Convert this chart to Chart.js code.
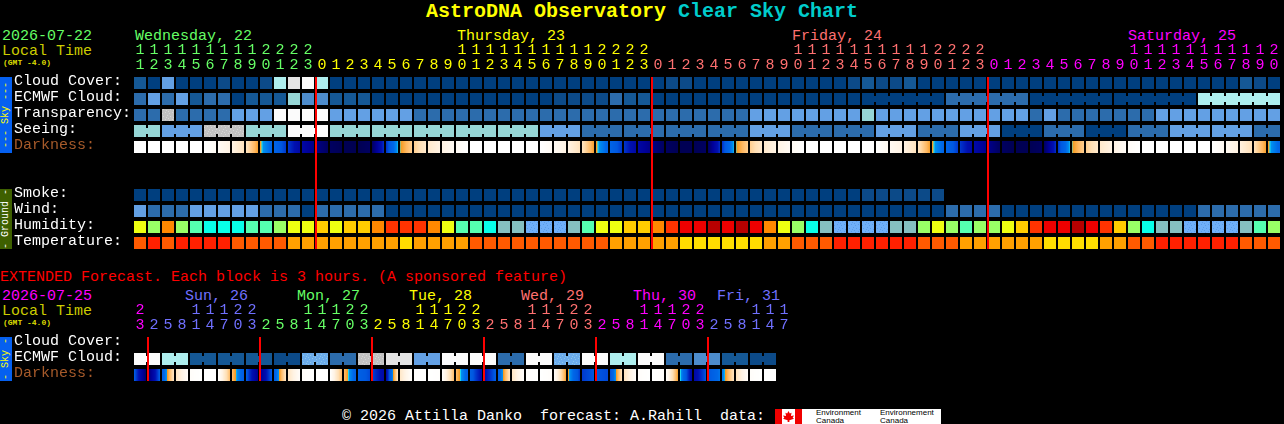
<!DOCTYPE html>
<html>
<head>
<meta charset="utf-8">
<title>AstroDNA Observatory Clear Sky Chart</title>
<script src="https://cdn.jsdelivr.net/npm/chart.js@4"></script>
<style>
html, body { margin: 0; background: #000; width: 1284px; height: 424px; overflow: hidden; }
canvas { position: absolute; left: 0; }
.t { position: absolute; white-space: pre; font: 15px/16px "Liberation Mono", monospace; color: #fff; }
.gmt { font: bold 8px/8px "Liberation Mono", monospace; color: #dddd00; }
.title { font: bold 20px/22px "Liberation Mono", monospace; }
.side { position: absolute; left: 0; width: 12px; display: flex; align-items: center; justify-content: center; }
.side span { writing-mode: vertical-rl; transform: rotate(180deg); font: 10px/12px "Liberation Mono", monospace; white-space: pre; }
.logo { position: absolute; background: #fff; }
.logo b { position: absolute; color: #000; font: 8px/8px "Liberation Sans", sans-serif; }
</style>
</head>
<body>
<div class="t title" style="left:426px;top:1px"><span style="color:#ffff00">AstroDNA Observatory</span> <span style="color:#00cccc">Clear Sky Chart</span></div>

<div class="t" style="left:2px;top:29px;color:#66ff66">2026-07-22</div>
<div class="t" style="left:2px;top:44px;color:#cccc00">Local Time</div>
<div class="t gmt" style="left:3px;top:59px">(GMT -4.0)</div>
<div class="t" style="left:135px;top:29px;color:#66ff66">Wednesday, 22</div>
<div class="t" style="left:457px;top:29px;color:#ffff00">Thursday, 23</div>
<div class="t" style="left:792px;top:29px;color:#ff7070">Friday, 24</div>
<div class="t" style="left:1128px;top:29px;color:#ff00ff">Saturday, 25</div>

<div class="side" style="top:77px;height:76px;background:#0560f0;color:#ffff00"><span>--- Sky ---</span></div>
<div class="side" style="top:189px;height:60px;background:#3e6000;color:#ffffff"><span>- Ground -</span></div>

<div class="t" style="left:0;top:270px;color:#ff0000">EXTENDED Forecast. Each block is 3 hours. (A sponsored feature)</div>
<div class="t" style="left:2px;top:289px;color:#ff00ff">2026-07-25</div>
<div class="t" style="left:2px;top:304px;color:#cccc00">Local Time</div>
<div class="t gmt" style="left:3px;top:319px">(GMT -4.0)</div>
<div class="t" style="left:185px;top:289px;color:#7070ff">Sun, 26</div>
<div class="t" style="left:297px;top:289px;color:#66ff66">Mon, 27</div>
<div class="t" style="left:409px;top:289px;color:#ffff00">Tue, 28</div>
<div class="t" style="left:521px;top:289px;color:#ff7070">Wed, 29</div>
<div class="t" style="left:633px;top:289px;color:#ff00ff">Thu, 30</div>
<div class="t" style="left:717px;top:289px;color:#7070ff">Fri, 31</div>
<div class="side" style="top:337px;height:44px;background:#0560f0;color:#ffff00"><span>- Sky -</span></div>

<div class="t" style="left:342px;top:409px">© 2026 Attilla Danko  forecast: A.Rahill  data:</div>
<div class="logo" style="left:775px;top:409px;width:166px;height:15px">
  <div style="position:absolute;left:0;top:0;width:7px;height:15px;background:#f00000"></div>
  <div style="position:absolute;left:20px;top:0;width:7px;height:15px;background:#f00000"></div>
  <div style="position:absolute;left:8px;top:2px;width:11px;height:11px;background:#f00000;clip-path:polygon(50% 0,62% 22%,78% 16%,72% 45%,100% 40%,88% 62%,100% 70%,58% 85%,58% 100%,42% 100%,42% 85%,0 70%,12% 62%,0 40%,28% 45%,22% 16%,38% 22%)"></div>
  <b style="left:41px;top:0">Environment</b><b style="left:41px;top:8px">Canada</b>
  <b style="left:105px;top:0">Environnement</b><b style="left:105px;top:8px">Canada</b>
</div>

<canvas id="hourlyChart" width="1284" height="209" style="top:42px"></canvas>
<canvas id="extendedChart" width="1284" height="81" style="top:302px"></canvas>

<script>
// hourly block, one entry per column
const hours = [11,12,13,14,15,16,17,18,19,20,21,22,23,
  0,1,2,3,4,5,6,7,8,9,10,11,12,13,14,15,16,17,18,19,20,21,22,23,
  0,1,2,3,4,5,6,7,8,9,10,11,12,13,14,15,16,17,18,19,20,21,22,23,
  0,1,2,3,4,5,6,7,8,9,10,11,12,13,14,15,16,17,18,19,20]
const dayStarts = [0,13,37,61]
const midnights = [13,37,61]

const cloudCover = [2,0,5,0,0,0,1,0,0,1, 8,10,11,8,0,0,0,0,0,0,
  0,0,0,0,0,0,0,0,0,0, 0,0,0,0,0,0,0,0,1,1,
  0,0,0,0,0,0,0,0,0,0, 0,1,2,1,1,2,0,0,0,0,
  0,0,0,0,0,0,0,0,0,0, 0,0,0,0,0,0,0,0,0,2, 1,0]
const ecmwfCloud = [3,5,3,5,2,3,3,0,2,2, 2,7,4,4,2,2,2,0,0,0,
  0,0,0,0,0,0,0,0,0,0, 1,1,1,1,3,2,2,0,0,0,
  0,0,0,0,0,0,0,0,0,0, 0,0,0,0,0,0,0,0,3,3,
  3,3,3,3,0,0,0,0,0,0, 0,0,0,0,0,0,8,8,8,8, 8,8]
const transparency = [3,3,9,3,3,3,3,5,5,5, 11,11,11,11,5,5,5,5,5,5,
  3,3,3,3,3,3,3,3,3,3, 3,3,3,3,3,3,3,3,3,3,
  3,3,3,3,5,5,5,5,5,5, 5,5,7,5,5,5,5,5,5,5,
  5,5,5,5,3,5,3,3,3,3, 3,3,3,5,5,5,5,5,5,5, 5,5]
const seeing = [7,7,5,5,5,9,9,9,7,7, 7,11,11,11,7,7,7,7,7,7,
  7,7,7,7,7,7,7,7,7,5, 5,5,3,3,3,3,3,3,3,3,
  3,3,3,3,5,5,5,3,3,3, 3,3,3,5,5,5,3,3,3,5,
  5,5,0,0,0,3,3,3,0,0, 0,3,3,3,5,5,5,5,5,5, 3,3]
const darkness = [0,0,0,0,0,0,.4,1,1.8,3.3, 4.4,5.4,6.5,7.3,8,8.5,8.6,8,5.5,3.47,
  2.4,1.5,1,.4,0,0,0,0,0,0, .4,1,1.8,3.3,4.4,5.4,6.5,7.3,8,8.5,
  8.5,8,5.5,3.47,2.4,1.5,1,.4,0,0, 0,0,0,0,.5,1,1.8,3.3,4.4,5.4,
  6.4,7.2,8,8.5,8.5,8,5.5,3.47,2.4,1.5, 1,.3,0,0,0,0,0,0,.5,1.1, 1.9,3.3,4.4]
const smoke = [0,0,0,0,0,0,0,0,0,0, 0,0,0,0,0,0,0,0,0,0,
  0,0,0,0,0,0,0,0,0,0, 0,0,0,0,0,0,0,0,0,0,
  0,0,0,0,0,0,0,0,0,0, 0,0,1,1,1,1,1,1]
const wind = [5,3,3,3,5,5,5,5,5,3, 3,3,0,3,3,3,3,3,0,0,
  0,0,0,0,0,0,0,0,0,0, 0,0,0,0,0,0,0,0,0,0,
  0,0,0,0,0,0,0,0,0,0, 0,0,0,0,0,0,0,0,3,3,
  3,3,0,0,0,0,0,0,0,0, 0,0,0,0,0,0,3,3,3,3, 3,3]
const humidity = [5,6,3,6,7,8,8,8,7,7, 6,5,5,4,5,4,4,3,2,2,
  2,3,5,7,7,8,9,9,10,10, 10,9,7,5,5,4,4,3,2,1,
  1,0,1,0,1,3,5,6,8,9, 10,10,10,10,9,9,6,5,6,7,
  6,6,5,4,2,1,1,0,1,2, 4,6,8,9,9,10,10,10,10,9, 7,6]
const temperature = [1,0,1,0,0,0,0,1,1,1, 1,2,2,2,2,2,2,2,2,3,
  2,2,2,2,1,1,1,1,1,1, 1,1,1,1,2,2,2,2,2,3,
  3,3,3,3,3,2,2,1,1,1, 0,0,0,0,0,0,1,1,1,2,
  2,2,2,2,2,3,3,3,3,2, 2,1,1,0,0,0,0,0,0,1, 1,1]

// columns where a new 3 hour block starts, cells in between are joined
const seeingBlocks = [0,2,5,8,11,14,17,20,23,26,29,32,35,38,41,44,47,50,53,56,59,62,65,68,71,74,77,80]
const ecmwfBlocks = [52,58,64,70,76]

// extended block, each column is 3 hours
const extHours = [23, 2,5,8,11,14,17,20,23, 2,5,8,11,14,17,20,23, 2,5,8,11,14,17,20,23,
  2,5,8,11,14,17,20,23, 2,5,8,11,14,17,20,23, 2,5,8,11,14,17]
const extDayStarts = [0,1,9,17,25,33,41]
const extMidnights = [1,9,17,25,33,41]
const extEcmwf = [11,11,8,8,2,2,2,2,2,2, 1,1,6,6,3,3,9,9,10,10,
  5,5,11,11,11,11,3,3,11,11, 6,6,11,11,8,8,11,11,3,3, 4,4,2,2,1,1]
const extDarkness = [4.8,7.8,4.8,1.7,.2,0,0,2.8,4.8,7.2, 4.8,1.7,.2,0,0,2.8,4.6,5.2,6.4,1.6,
  .1,0,.1,2.8,4.6,6.2,4.8,1.7,.1,0, .2,3.3,5.4,5,5.2,1.8,.2,0,.2,3.35, 6.5,5,4,1.8,.2,0,0]

const hourlyRows = ['Cloud Cover:','ECMWF Cloud:','Transparency:','Seeing:','Darkness:','','','Smoke:','Wind:','Humidity:','Temperature:']
const extRows = ['Cloud Cover:','ECMWF Cloud:','Darkness:']

// little dither tile for the speckled colours
function speckle(base, dot) {
    let c = document.createElement('canvas')
    c.width = 7
    c.height = 7
    let g = c.getContext('2d')
    g.fillStyle = base
    g.fillRect(0,0,7,7)
    g.fillStyle = dot
    ;[[1,1],[4,0],[6,3],[2,4],[5,5],[0,6]].forEach(p => g.fillRect(p[0],p[1],1,1))
    return g.createPattern(c, 'repeat')
}

const skyColors = ['#003f7f','#0c4a88','#155895','#2c6cac','#4d8ccc','#63a0e4',
    speckle('#6cacec','#8cc8e8'),'#96d6d6','#aeeeee',speckle('#c2c2c2','#d6d6d6'),'#e4e4e4','#fbfbfb']
const humidityColors = ['#b80000','#ee0000','#ff3300','#ff8800','#ffcc00','#eeff11','#99ff66','#55ffb0','#08ffe8','#85c0c0',speckle('#70b0f8','#5a9ce8')]
const temperatureColors = ['#ff2000','#ff5a00','#ffa000','#ffdd00']
const dayColors = ['#66ff66','#ffff00','#ff7070','#ff00ff']
const extDayColors = ['#ff00ff','#7070ff','#66ff66','#ffff00','#ff7070','#ff00ff','#7070ff']
const darknessRamp = [[0,'#ffffff'],[1,'#fff3e4'],[2,'#ffdfb4'],[2.9,'#ffb860'],[3.4,'#f59a20'],[3.46,'#20e0f0'],
    [3.6,'#0090f0'],[4.2,'#0068e8'],[5,'#0058e0'],[5.5,'#0030c8'],[6,'#0010b0'],[7,'#000098'],[8,'#000060'],[9,'#000048']]

function hexToRgb(hex) {
    return [1,3,5].map(i => parseInt(hex.substr(i,2),16))
}

function darknessColor(value) {
    for(let i = 1; i < darknessRamp.length; i++) {
        if(value <= darknessRamp[i][0]) {
            let a = darknessRamp[i-1], b = darknessRamp[i]
            let t = (value - a[0])/(b[0] - a[0])
            let ca = hexToRgb(a[1]), cb = hexToRgb(b[1])
            return 'rgb(' + ca.map((v,k) => Math.round(v + (cb[k]-v)*t)).join(',') + ')'
        }
    }
    return darknessRamp[darknessRamp.length-1][1]
}

const CELL = 0.375 // half a cell, in rows
const NECK = 0.1875 // half the joining piece, in rows
const LABEL_LIFT = 0.125 // row labels sit a little above the cell centre

function cellRow(row, values, colors) {
    return {
        data: values.map((v,i) => ({x:i, y:[row-CELL, row+CELL]})),
        backgroundColor: values.map(v => colors[v]),
        barThickness: 12
    }
}

// the small pieces that join the cells of one block
function joinRow(row, values, colors, blocks, firstCol) {
    let data = [], backgroundColor = []
    for(let i = firstCol; i < values.length-1; i++) {
        if(!blocks.includes(i+1)) {
            data.push({x:i+0.5, y:[row-NECK, row+NECK]})
            backgroundColor.push(colors[values[i]])
        }
    }
    return {data, backgroundColor, barThickness: 2}
}

// each darkness cell fades from the value at its left edge to the one at its right edge
function darknessRow(row, edges) {
    return {
        data: edges.slice(0,-1).map((v,i) => ({x:i, y:[row-CELL, row+CELL]})),
        barThickness: 12,
        backgroundColor: (ctx) => {
            let i = ctx.dataIndex
            let left = ctx.chart.scales.x.getPixelForValue(i) - 6
            if(i === undefined || !isFinite(left)) return '#000'
            let grad = ctx.chart.ctx.createLinearGradient(left, 0, left+12, 0)
            for(let k = 0; k <= 24; k++) {
                grad.addColorStop(k/24, darknessColor(edges[i] + (edges[i+1]-edges[i])*k/24))
            }
            return grad
        }
    }
}

function redLines(cols, lastRow) {
    return {
        data: cols.map(c => ({x:c-3/7, y:[-CELL, lastRow+CELL]})),
        backgroundColor: '#ff0000',
        barThickness: 2
    }
}

function tickColors(starts, colors) {
    return (ctx) => {
        let day = 0
        starts.forEach((s,k) => { if(ctx.index >= s) day = k })
        return colors[day]
    }
}

function makeChart(id, hourList, starts, colors, rowNames, datasets) {
    new Chart(id, {
        type: 'bar',
        data: {datasets},
        options: {
            responsive: false,
            animation: false,
            devicePixelRatio: 1,
            events: [],
            layout: {padding: {left: 14, right: 0, top: 0, bottom: 0}},
            datasets: {bar: {grouped: false, borderWidth: 0, inflateAmount: 0}},
            plugins: {legend: {display: false}, tooltip: {enabled: false}, title: {display: false}},
            scales: {
                x: {
                    type: 'linear',
                    position: 'top',
                    offset: false,
                    min: -3/7,
                    max: 1144/14,
                    grid: {display: false, drawTicks: false},
                    border: {display: false},
                    afterFit: (s) => { s.height = 33; s.paddingLeft = 0; s.paddingRight = 0 },
                    afterBuildTicks: (s) => { s.ticks = hourList.map((h,i) => ({value:i})) },
                    ticks: {
                        autoSkip: false,
                        maxRotation: 0,
                        minRotation: 0,
                        padding: 2,
                        font: {family: '"Liberation Mono", monospace', size: 15, lineHeight: 1},
                        color: tickColors(starts, colors),
                        callback: (value, index) => {
                            let h = hourList[index]
                            return h >= 10 ? [String(h)[0], String(h)[1]] : ['', String(h)]
                        }
                    }
                },
                y: {
                    type: 'linear',
                    reverse: true,
                    min: -0.5,
                    max: rowNames.length - 0.5,
                    grid: {display: false, drawTicks: false},
                    border: {display: false},
                    afterFit: (s) => { s.width = 120; s.paddingTop = 0; s.paddingBottom = 0 },
                    afterBuildTicks: (s) => { s.ticks = rowNames.map((n,i) => ({value:i-LABEL_LIFT})) },
                    ticks: {
                        crossAlign: 'far',
                        autoSkip: false,
                        padding: 0,
                        font: {family: '"Liberation Mono", monospace', size: 15},
                        color: (ctx) => rowNames[ctx.index] === 'Darkness:' ? '#a65a2a' : '#ffffff',
                        callback: (value, index) => rowNames[index]
                    }
                }
            }
        }
    })
}

makeChart('hourlyChart', hours, dayStarts, dayColors, hourlyRows, [
    redLines(midnights, 10),
    cellRow(0, cloudCover, skyColors),
    cellRow(1, ecmwfCloud, skyColors),
    joinRow(1, ecmwfCloud, skyColors, ecmwfBlocks, 52),
    cellRow(2, transparency, skyColors),
    cellRow(3, seeing, skyColors),
    joinRow(3, seeing, skyColors, seeingBlocks, 0),
    darknessRow(4, darkness),
    cellRow(7, smoke, skyColors),
    cellRow(8, wind, skyColors),
    cellRow(9, humidity, humidityColors),
    cellRow(10, temperature, temperatureColors)
])

const extBlocks = extEcmwf.map((v,i) => i).filter(i => i % 2 === 0)

makeChart('extendedChart', extHours, extDayStarts, extDayColors, extRows, [
    redLines(extMidnights, 2),
    cellRow(1, extEcmwf, skyColors),
    joinRow(1, extEcmwf, skyColors, extBlocks, 0),
    darknessRow(2, extDarkness)
])
</script>
</body>
</html>
